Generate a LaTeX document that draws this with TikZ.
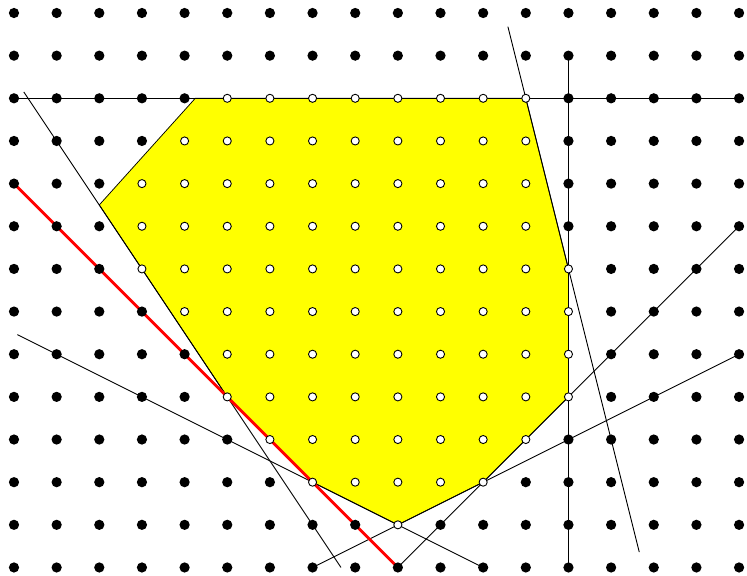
\documentclass[tikz,border=0pt]{standalone}
\definecolor{regionyellow}{RGB}{255,255,0}
\definecolor{linered}{RGB}{255,0,0}
\begin{document}
\begin{tikzpicture}[
  bdot/.style={circle,fill=black,inner sep=0pt,minimum size=0.24cm},
  wdot/.style={circle,fill=white,draw=black,line width=0.6pt,inner sep=0pt,minimum size=0.19cm},
  cline/.style={black,line width=0.6pt},
  redline/.style={linered,line width=2pt}
]
\useasboundingbox[fill=white] (-0.328,-0.188) rectangle (17.186,13.305);
% feasible region
\coordinate (v1) at (4.25,11);
\coordinate (v2) at (12,11);
\coordinate (v3) at (13,7);
\coordinate (v4) at (13,4);
\coordinate (v5) at (11,2);
\coordinate (v6) at (9,1);
\coordinate (v7) at (7,2);
\coordinate (v8) at (5,4);
\coordinate (v9) at (2,8.5);
\fill[regionyellow,draw=black,line width=0.5pt] (v1) -- (v2) -- (v3) -- (v4) -- (v5) -- (v6) -- (v7) -- (v8) -- (v9) -- cycle;
% constraint lines
\coordinate (h1) at (0,11);   \coordinate (h2) at (17,11);
\coordinate (w1) at (13,12);  \coordinate (w2) at (13,0);
\coordinate (a1) at (0.23,11.15); \coordinate (a2) at (7.667,0);
\coordinate (b1) at (11.58,12.68); \coordinate (b2) at (14.66,0.36);
\coordinate (c1) at (0.08,5.46); \coordinate (c2) at (11,0);
\coordinate (d1) at (7,0); \coordinate (d2) at (17,5);
\coordinate (e1) at (9,0); \coordinate (e2) at (17,8);
\coordinate (r1) at (0,9); \coordinate (r2) at (9,0);
\draw[cline] (h1) -- (h2);
\draw[cline] (w1) -- (w2);
\draw[cline] (a1) -- (a2);
\draw[cline] (b1) -- (b2);
\draw[cline] (c1) -- (c2);
\draw[cline] (d1) -- (d2);
\draw[cline] (e1) -- (e2);
\draw[redline] (r1) -- (r2);
% lattice points
\foreach \y/\lo/\hi in {0/99/-1, 1/9/9, 2/7/11, 3/6/12, 4/5/13, 5/5/13, 6/4/13, 7/3/13, 8/3/12, 9/3/12, 10/4/12, 11/5/12, 12/99/-1, 13/99/-1} {
  \foreach \x in {0,...,17} {
    \pgfmathtruncatemacro\inside{((\x>=\lo)&&(\x<=\hi))?1:0}
    \ifnum\inside=1
      \node[wdot] (p-\x-\y) at (\x,\y) {};
    \else
      \node[bdot] (p-\x-\y) at (\x,\y) {};
    \fi
  }
}
\end{tikzpicture}
\end{document}
